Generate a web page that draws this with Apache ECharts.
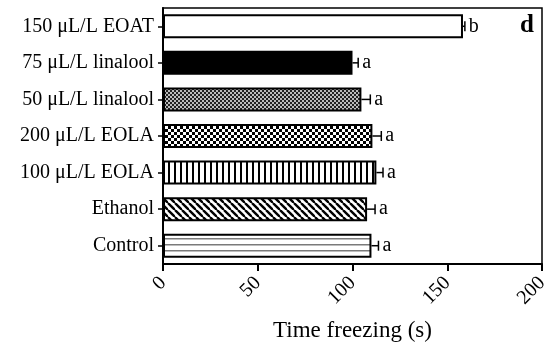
<!DOCTYPE html>
<html>
<head>
<meta charset="utf-8">
<script src="https://cdn.jsdelivr.net/npm/echarts@6/dist/echarts.min.js"></script>
<style>
  html, body { margin: 0; padding: 0; background: #fff; }
  #chart { width: 552px; height: 352px; }
</style>
</head>
<body>
<div id="chart"></div>
<script>
// Treatment groups, listed bottom to top as the category axis draws them
const categories = [
  'Control',
  'Ethanol',
  '100 \u03bcL/L EOLA',
  '200 \u03bcL/L EOLA',
  '50 \u03bcL/L linalool',
  '75 \u03bcL/L linalool',
  '150 \u03bcL/L EOAT'
];
// Mean freezing time (s) and its error for each group
const meanTime = [110, 107.7, 112.6, 110.5, 104.7, 100, 158.3];
const errTime = [3.7, 4.2, 3.5, 4.7, 4.7, 3, 1];
// Significance letters printed next to each bar
const groupLetters = ['a', 'a', 'a', 'a', 'a', 'a', 'b'];
// Value axis tick labels
const xTicks = [0, 50, 100, 150, 200];

const FONT = "'Liberation Serif', 'Times New Roman', serif";

function makeTile(w, h, draw) {
  const c = document.createElement('canvas');
  c.width = w; c.height = h;
  const g = c.getContext('2d');
  g.fillStyle = '#fff';
  g.fillRect(0, 0, w, h);
  draw(g, w, h);
  return { image: c, repeat: 'repeat' };
}

// Fill patterns, one per group
const fills = [
  // horizontal grey lines
  makeTile(6, 6, (g) => { g.fillStyle = '#7a7a7a'; g.fillRect(0, 4, 6, 1.5); }),
  // diagonal hatching
  makeTile(7, 7, (g, w, h) => {
    g.strokeStyle = '#000'; g.lineWidth = 2.4;
    for (let k = -1; k <= 1; k++) {
      g.beginPath(); g.moveTo(k * w, 0); g.lineTo(k * w + w, h); g.stroke();
    }
  }),
  // vertical stripes
  makeTile(6, 6, (g) => { g.fillStyle = '#000'; g.fillRect(0, 0, 2, 6); }),
  // coarse checkerboard
  makeTile(6, 6, (g) => {
    g.fillStyle = '#000';
    g.fillRect(0, 0, 3, 3); g.fillRect(3, 3, 3, 3);
  }),
  // fine checkerboard
  makeTile(4, 4, (g) => {
    g.fillStyle = '#222';
    g.fillRect(0, 0, 2, 2); g.fillRect(2, 2, 2, 2);
    g.fillStyle = '#bbb';
    g.fillRect(2, 0, 2, 2); g.fillRect(0, 2, 2, 2);
  }),
  '#000',
  '#fff'
];

const chart = echarts.init(document.getElementById('chart'), null, { renderer: 'canvas' });

chart.setOption({
  animation: false,
  grid: {
    left: 163, right: 10, top: 8, bottom: 88,
    show: true, borderColor: '#000', borderWidth: 1.5, backgroundColor: 'transparent'
  },
  xAxis: {
    type: 'value',
    min: xTicks[0],
    max: xTicks[xTicks.length - 1],
    interval: xTicks[1] - xTicks[0],
    name: 'Time freezing (s)',
    nameLocation: 'middle',
    nameGap: 55,
    nameTextStyle: { fontFamily: FONT, fontSize: 23, color: '#000' },
    axisLine: { show: true, lineStyle: { color: '#000', width: 2 } },
    axisTick: { show: true, inside: false, length: 7, lineStyle: { color: '#000', width: 2 } },
    axisLabel: { rotate: 45, margin: 16, fontFamily: FONT, fontSize: 20, color: '#000' },
    splitLine: { show: false }
  },
  yAxis: {
    type: 'category',
    data: categories,
    axisLine: { show: true, lineStyle: { color: '#000', width: 2 } },
    axisTick: { show: true, alignWithLabel: true, length: 5, lineStyle: { color: '#000', width: 1.5 } },
    axisLabel: { margin: 9, fontFamily: FONT, fontSize: 20, color: '#000' }
  },
  series: [
    {
      type: 'bar',
      barWidth: 24,
      data: meanTime.map((v, i) => ({
        value: v,
        itemStyle: { color: fills[i], borderColor: '#000', borderWidth: 2 }
      })),
      z: 2
    },
    {
      type: 'custom',
      data: meanTime.map((v, i) => [v, i, errTime[i]]),
      encode: { x: 0, y: 1 },
      z: 3,
      renderItem: function (params, api) {
        const v = api.value(0), idx = api.value(1), e = api.value(2);
        const p0 = api.coord([v, idx]);
        const p1 = api.coord([v + e, idx]);
        const cap = 5;
        const letter = groupLetters[params.dataIndex];
        return {
          type: 'group',
          children: [
            { type: 'line', shape: { x1: p0[0], y1: p0[1], x2: p1[0], y2: p1[1] },
              style: { stroke: '#000', lineWidth: 1.5 } },
            { type: 'line', shape: { x1: p1[0], y1: p1[1] - cap, x2: p1[0], y2: p1[1] + cap },
              style: { stroke: '#000', lineWidth: 1.5 } },
            { type: 'text', x: p1[0] + 4, y: p1[1],
              style: { text: letter, font: '20px ' + FONT, fill: '#000',
                       textAlign: 'left', textVerticalAlign: 'middle' } }
          ]
        };
      }
    }
  ],
  graphic: [
    { type: 'text', right: 18, top: 13,
      style: { text: 'd', font: 'bold 25px ' + FONT, fill: '#000' } }
  ]
});
</script>
</body>
</html>
